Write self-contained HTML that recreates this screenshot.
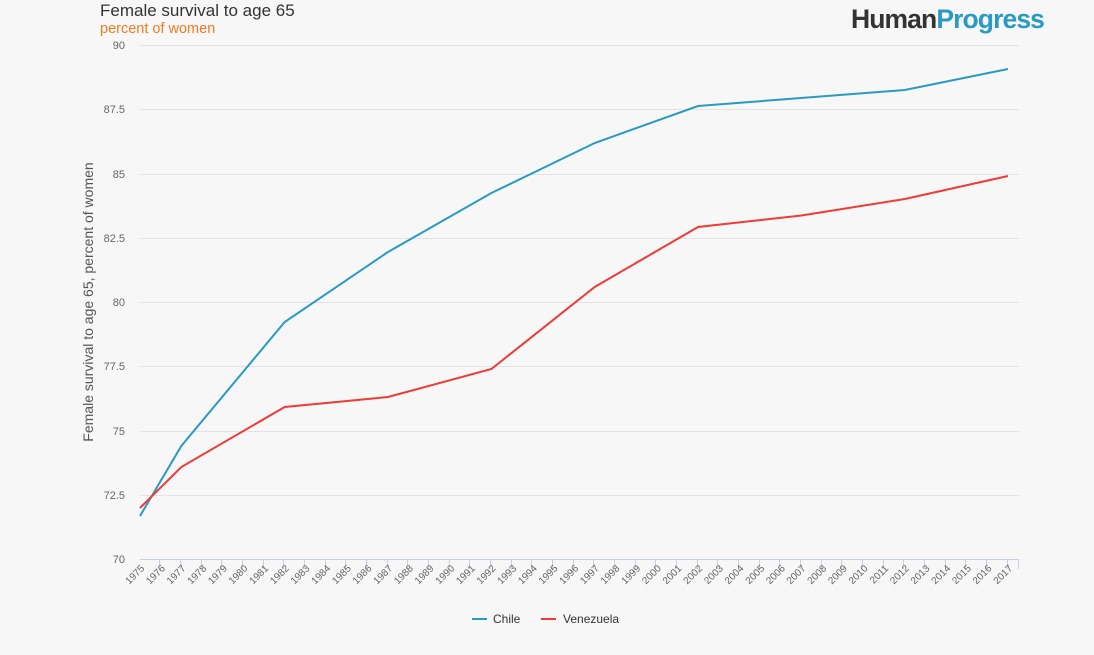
<!DOCTYPE html>
<html><head><meta charset="utf-8"><style>
body{margin:0;background:#f7f7f7;width:1094px;height:650px;overflow:hidden;font-family:"Liberation Sans",sans-serif}
</style></head><body>
<svg width="1094" height="650" xmlns="http://www.w3.org/2000/svg" font-family="Liberation Sans, sans-serif">
<rect width="1094" height="650" fill="#f7f7f7"/>
<text x="100" y="16" font-size="17" fill="#333">Female survival to age 65</text>
<text x="100" y="33" font-size="14.5" fill="#f47b20">percent of women</text>
<text x="851" y="28" font-size="26.5" font-weight="bold" fill="#333" letter-spacing="-0.9">Human<tspan fill="#2a9ac4">Progress</tspan></text>
<g stroke="#e3e3e3" stroke-width="1">
<line x1="140" x2="1019" y1="45.5" y2="45.5"/><line x1="140" x2="1019" y1="109.5" y2="109.5"/>
<line x1="140" x2="1019" y1="174.5" y2="174.5"/><line x1="140" x2="1019" y1="238.5" y2="238.5"/>
<line x1="140" x2="1019" y1="302.5" y2="302.5"/><line x1="140" x2="1019" y1="366.5" y2="366.5"/>
<line x1="140" x2="1019" y1="431.5" y2="431.5"/><line x1="140" x2="1019" y1="495.5" y2="495.5"/>
</g>
<line x1="140" x2="1019" y1="559.5" y2="559.5" stroke="#c5d0e6"/>
<path stroke="#c5d0e6" fill="none" d="M159.5 559v10M180.5 559v10M201.5 559v10M221.5 559v10M242.5 559v10M263.5 559v10M283.5 559v10M304.5 559v10M325.5 559v10M345.5 559v10M366.5 559v10M387.5 559v10M407.5 559v10M428.5 559v10M449.5 559v10M469.5 559v10M490.5 559v10M511.5 559v10M531.5 559v10M552.5 559v10M573.5 559v10M593.5 559v10M614.5 559v10M635.5 559v10M655.5 559v10M676.5 559v10M697.5 559v10M717.5 559v10M738.5 559v10M759.5 559v10M779.5 559v10M800.5 559v10M821.5 559v10M841.5 559v10M862.5 559v10M883.5 559v10M903.5 559v10M924.5 559v10M945.5 559v10M965.5 559v10M986.5 559v10M1007.5 559v10M1018.5 559v10"/>
<g font-size="11" fill="#666" text-anchor="end">
<text x="125" y="49">90</text><text x="125" y="113">87.5</text><text x="125" y="178">85</text>
<text x="125" y="242">82.5</text><text x="125" y="306">80</text><text x="125" y="370">77.5</text>
<text x="125" y="435">75</text><text x="125" y="499">72.5</text><text x="125" y="563">70</text>
</g>
<text transform="translate(93,302) rotate(-90)" font-size="14" fill="#555" text-anchor="middle">Female survival to age 65, percent of women</text>
<g font-size="10" fill="#666" text-anchor="end">
<text transform="translate(145,569) rotate(-45)">1975</text>
<text transform="translate(165.7,569) rotate(-45)">1976</text>
<text transform="translate(186.3,569) rotate(-45)">1977</text>
<text transform="translate(207,569) rotate(-45)">1978</text>
<text transform="translate(227.7,569) rotate(-45)">1979</text>
<text transform="translate(248.3,569) rotate(-45)">1980</text>
<text transform="translate(269,569) rotate(-45)">1981</text>
<text transform="translate(289.7,569) rotate(-45)">1982</text>
<text transform="translate(310.3,569) rotate(-45)">1983</text>
<text transform="translate(331,569) rotate(-45)">1984</text>
<text transform="translate(351.7,569) rotate(-45)">1985</text>
<text transform="translate(372.3,569) rotate(-45)">1986</text>
<text transform="translate(393,569) rotate(-45)">1987</text>
<text transform="translate(413.7,569) rotate(-45)">1988</text>
<text transform="translate(434.3,569) rotate(-45)">1989</text>
<text transform="translate(455,569) rotate(-45)">1990</text>
<text transform="translate(475.7,569) rotate(-45)">1991</text>
<text transform="translate(496.3,569) rotate(-45)">1992</text>
<text transform="translate(517,569) rotate(-45)">1993</text>
<text transform="translate(537.7,569) rotate(-45)">1994</text>
<text transform="translate(558.3,569) rotate(-45)">1995</text>
<text transform="translate(579,569) rotate(-45)">1996</text>
<text transform="translate(599.7,569) rotate(-45)">1997</text>
<text transform="translate(620.3,569) rotate(-45)">1998</text>
<text transform="translate(641,569) rotate(-45)">1999</text>
<text transform="translate(661.7,569) rotate(-45)">2000</text>
<text transform="translate(682.3,569) rotate(-45)">2001</text>
<text transform="translate(703,569) rotate(-45)">2002</text>
<text transform="translate(723.7,569) rotate(-45)">2003</text>
<text transform="translate(744.3,569) rotate(-45)">2004</text>
<text transform="translate(765,569) rotate(-45)">2005</text>
<text transform="translate(785.7,569) rotate(-45)">2006</text>
<text transform="translate(806.3,569) rotate(-45)">2007</text>
<text transform="translate(827,569) rotate(-45)">2008</text>
<text transform="translate(847.7,569) rotate(-45)">2009</text>
<text transform="translate(868.3,569) rotate(-45)">2010</text>
<text transform="translate(889,569) rotate(-45)">2011</text>
<text transform="translate(909.7,569) rotate(-45)">2012</text>
<text transform="translate(930.3,569) rotate(-45)">2013</text>
<text transform="translate(951,569) rotate(-45)">2014</text>
<text transform="translate(971.7,569) rotate(-45)">2015</text>
<text transform="translate(992.3,569) rotate(-45)">2016</text>
<text transform="translate(1013,569) rotate(-45)">2017</text>
</g>
<polyline fill="none" stroke="#2a9ac4" stroke-width="2" points="140,516 181.3,446 284.7,322 388,252 491.4,193 594.7,143 698,106 904.8,90 1008,69"/>
<polyline fill="none" stroke="#ef3b36" stroke-width="2" points="140,508 181.3,467 284.7,407 388,397 491.4,369 594.7,287 698,227 801.4,215.5 904.8,199 1008,176"/>
<line x1="472" x2="487" y1="619" y2="619" stroke="#2a9ac4" stroke-width="2"/>
<text x="493" y="623" font-size="12" fill="#333">Chile</text>
<line x1="541" x2="556" y1="619" y2="619" stroke="#ef3b36" stroke-width="2"/>
<text x="563" y="623" font-size="12" fill="#333">Venezuela</text>
</svg>
</body></html>
